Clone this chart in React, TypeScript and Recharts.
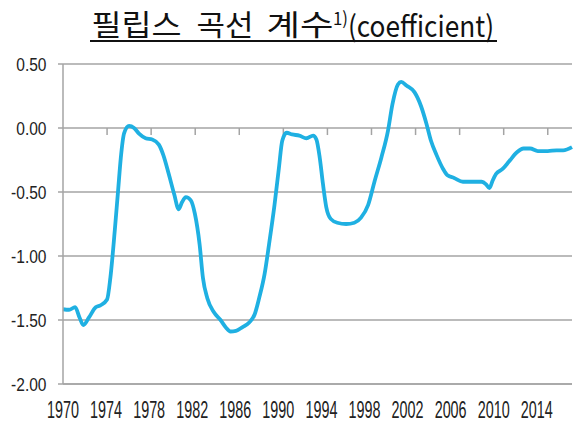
import React from 'react';
import { LineChart, Line, XAxis, YAxis, CartesianGrid, ReferenceLine } from 'recharts';

const years = [
  1970.0, 1970.55, 1971.1, 1971.5, 1971.85, 1972.36, 1972.97, 1973.4, 1974.0, 1974.3,
  1974.7, 1975.0, 1975.25, 1975.55, 1976.0, 1976.45, 1976.9, 1977.5, 1978.1, 1978.7,
  1979.1, 1979.6, 1980.1, 1980.5, 1980.8, 1981.15, 1981.6, 1981.97, 1982.4, 1982.7,
  1983.1, 1983.7, 1984.3, 1984.8, 1985.2, 1985.7, 1986.3, 1986.9, 1987.4, 1987.8,
  1988.3, 1988.7, 1989.2, 1989.6, 1989.9, 1990.3, 1990.8, 1991.45, 1992.1, 1992.7,
  1993.0, 1993.3, 1993.6, 1993.9, 1994.3, 1994.9, 1995.7, 1996.45, 1997.05, 1997.7,
  1998.3, 1998.9, 1999.5, 1999.9, 2000.4, 2000.7, 2001.2, 2001.9, 2002.5, 2003.0,
  2003.4, 2003.9, 2004.5, 2004.9, 2005.5, 2006.3, 2007.1, 2008.0, 2008.4, 2008.7,
  2009.0, 2009.3, 2009.9, 2010.5, 2011.2, 2011.8, 2012.4, 2013.1, 2014.0, 2014.8,
  2015.4, 2016.2,
];

const coefficient = [
  -1.416, -1.42, -1.40, -1.48, -1.54, -1.48, -1.40, -1.385, -1.34, -1.17,
  -0.80, -0.49, -0.23, -0.04, 0.016, 0.0, -0.044, -0.08, -0.09, -0.13,
  -0.21, -0.36, -0.52, -0.635, -0.58, -0.54, -0.565, -0.67, -0.91, -1.17,
  -1.33, -1.44, -1.50, -1.56, -1.59, -1.585, -1.555, -1.52, -1.455, -1.33,
  -1.14, -0.91, -0.60, -0.31, -0.10, -0.037, -0.05, -0.06, -0.08, -0.06,
  -0.09, -0.23, -0.44, -0.62, -0.71, -0.74, -0.75, -0.74, -0.70, -0.60,
  -0.41, -0.23, -0.02, 0.185, 0.34, 0.36, 0.33, 0.28, 0.17, 0.03,
  -0.10, -0.21, -0.32, -0.37, -0.39, -0.42, -0.42, -0.42, -0.44, -0.47,
  -0.41, -0.36, -0.32, -0.26, -0.19, -0.16, -0.16, -0.18, -0.18, -0.175,
  -0.175, -0.15,
];

const xTicks = [1970, 1974, 1978, 1982, 1986, 1990, 1994, 1998, 2002, 2006, 2010, 2014];
const yTicks = [-2, -1.5, -1, -0.5, 0, 0.5];

const titleWords = ['필립스', '곡선', '계수'];
const titleSup = '1)';
const titleLatin = '(coefficient)';

const data = years.map((year, i) => ({ year, value: coefficient[i] }));

const GRID = '#a4a4a4';
const LINE = '#1fb0e2';
const TEXT = '#222222';
const FONT = '"Liberation Sans", Arial, sans-serif';

const YTick = (props: any) => {
  const { y, payload } = props;
  const label = Number(payload.value).toFixed(2);
  return (
    <g transform={`translate(46.5, ${y + 6.6}) scale(0.84, 1)`}>
      <text x={0} y={0} textAnchor="end" fontSize={18.5} fontFamily={FONT} fill={TEXT}>
        {label}
      </text>
    </g>
  );
};

const XTick = (props: any) => {
  const { x, y, payload } = props;
  const cx = x - (payload.value - 1970) * 0.25;
  return (
    <g transform={`translate(${cx}, ${y + 34}) scale(0.625, 1)`}>
      <text x={0} y={0} textAnchor="middle" fontSize={23} fontFamily={FONT} fill={TEXT}>
        {String(payload.value)}
      </text>
    </g>
  );
};

export default function App() {
  return (
    <div style={{ position: 'absolute', left: 0, top: 0, width: 574, height: 423, background: '#fff' }}>
      <LineChart
        width={574}
        height={423}
        data={data}
        margin={{ top: 64, right: 2, left: 0, bottom: 0 }}
      >
        <CartesianGrid vertical={false} stroke={GRID} strokeWidth={1.5} />
        <XAxis
          dataKey="year"
          type="number"
          domain={[1970, 2016.2]}
          ticks={xTicks}
          interval={0}
          height={39}
          tickSize={0}
          tickMargin={0}
          tickLine={false}
          axisLine={{ stroke: GRID, strokeWidth: 1.5 }}
          tick={<XTick />}
        />
        <YAxis
          type="number"
          domain={[-2, 0.5]}
          ticks={yTicks}
          interval={0}
          width={63}
          tickSize={5}
          tickMargin={8}
          tickLine={{ stroke: GRID, strokeWidth: 1.5 }}
          axisLine={{ stroke: GRID, strokeWidth: 1.5 }}
          tick={<YTick />}
        />
        {xTicks.slice(1).map((t) => (
          <ReferenceLine
            key={t}
            segment={[{ x: t, y: 0 }, { x: t, y: -0.055 }]}
            stroke={GRID}
            strokeWidth={1.5}
          />
        ))}
        <Line
          type="monotone"
          dataKey="value"
          stroke={LINE}
          strokeWidth={3.8}
          dot={false}
          isAnimationActive={false}
        />
      </LineChart>
      <svg
        width={574}
        height={50}
        style={{ position: 'absolute', left: 0, top: 0 }}
      >
        <g fontFamily='"Noto Sans CJK KR", "Noto Sans", sans-serif' fill="#111">
          <text x={91.5} y={36} fontSize={29} textLength={90} lengthAdjust="spacingAndGlyphs">{titleWords[0]}</text>
          <text x={196.5} y={36} fontSize={29} textLength={57} lengthAdjust="spacingAndGlyphs">{titleWords[1]}</text>
          <text x={266.5} y={36} fontSize={29} textLength={67} lengthAdjust="spacingAndGlyphs">{titleWords[2]}</text>
          <text x={333} y={25} fontSize={18} textLength={15} lengthAdjust="spacingAndGlyphs">{titleSup}</text>
          <text x={348} y={37} fontSize={29} textLength={146} lengthAdjust="spacingAndGlyphs">{titleLatin}</text>
        </g>
        <line x1={90} x2={497} y1={41} y2={41} stroke="#111" strokeWidth={1.8} />
      </svg>
    </div>
  );
}
